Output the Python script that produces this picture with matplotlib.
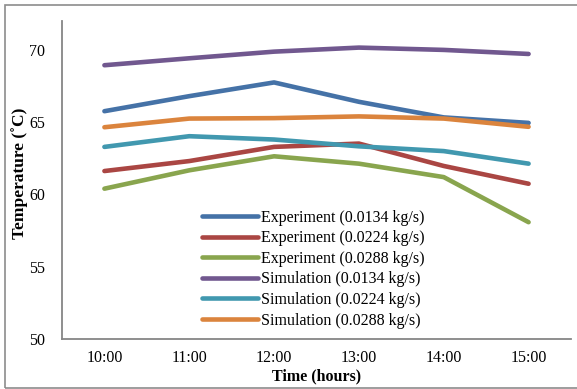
import matplotlib
matplotlib.use("Agg")
import matplotlib.pyplot as plt
from matplotlib.patches import Rectangle

plt.rcParams['font.family'] = ['Liberation Serif', 'DejaVu Serif']
plt.rcParams['font.size'] = 11.5

hours = ["10:00", "11:00", "12:00", "13:00", "14:00", "15:00"]

exp_0134 = [65.76, 66.8, 67.75, 66.41, 65.33, 64.95]
exp_0224 = [61.62, 62.31, 63.29, 63.52, 61.97, 60.74]
exp_0288 = [60.4, 61.67, 62.64, 62.13, 61.2, 58.08]
sim_0134 = [68.94, 69.42, 69.88, 70.16, 70.0, 69.72]
sim_0224 = [63.29, 64.03, 63.8, 63.33, 63.0, 62.13]
sim_0288 = [64.65, 65.25, 65.28, 65.4, 65.25, 64.68]

series = [
    ("Experiment (0.0134 kg/s)", exp_0134, "#4572A7"),
    ("Experiment (0.0224 kg/s)", exp_0224, "#AA4643"),
    ("Experiment (0.0288 kg/s)", exp_0288, "#89A54E"),
    ("Simulation (0.0134 kg/s)", sim_0134, "#71588F"),
    ("Simulation (0.0224 kg/s)", sim_0224, "#4198AF"),
    ("Simulation (0.0288 kg/s)", sim_0288, "#DB843D"),
]

fig = plt.figure(figsize=(5.77, 3.89), dpi=100)
ax = fig.add_axes([62 / 577, 50 / 389, 509 / 577, 318 / 389])

x = list(range(len(hours)))
for name, vals, col in series:
    ax.plot(x, vals, color=col, lw=3.3, solid_capstyle='round',
            solid_joinstyle='round', label=name)

ax.set_xlim(-0.5, len(hours) - 0.5)
ax.set_ylim(50, 72)
ax.set_yticks([50, 55, 60, 65, 70])
ax.set_xticks(x)
ax.set_xticklabels(hours)
ax.tick_params(length=0)
ax.tick_params(axis='y', pad=12)
ax.tick_params(axis='x', pad=8)

for s in ['top', 'right']:
    ax.spines[s].set_visible(False)
for s in ['left', 'bottom']:
    ax.spines[s].set_color('#868686')
    ax.spines[s].set_linewidth(1.3)

ax.set_xlabel("Time (hours)", fontweight='bold', labelpad=2)
ax.set_ylabel("Temperature (˚C)", fontweight='bold', fontsize=12.5)
ax.yaxis.set_label_coords(-34 / 509, 0.52)

ax.legend(loc='upper left', bbox_to_anchor=(202 / 577, 1 - 209.5 / 389),
          bbox_transform=fig.transFigure, frameon=False, borderpad=0,
          borderaxespad=0, handlelength=3.5, handletextpad=0.2,
          labelspacing=0.29)

fig.patches.append(Rectangle((5 / 577, 1.5 / 389), 1.0, 1 - 6.5 / 389,
                             transform=fig.transFigure, fill=False,
                             edgecolor='#8c8c8c', lw=1.2))

fig.savefig("out.png", dpi=100)
